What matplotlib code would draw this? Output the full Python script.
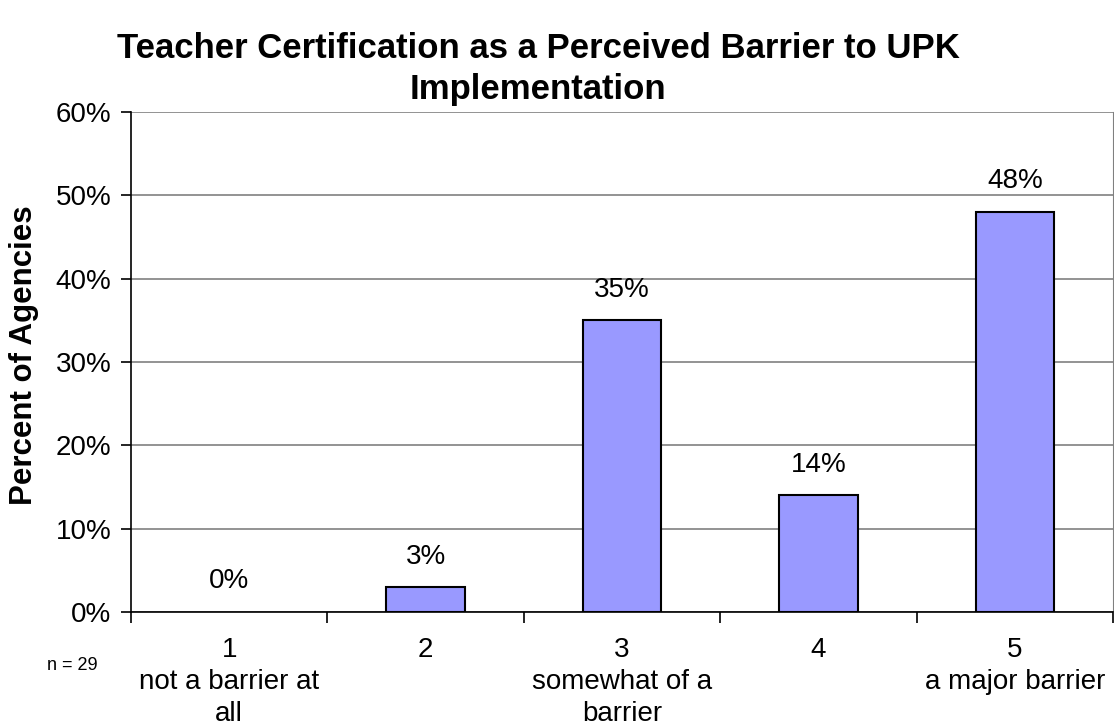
import matplotlib.pyplot as plt
import numpy as np

plt.rcParams['font.family'] = ['Liberation Sans', 'DejaVu Sans']

categories = ["1\nnot a barrier at\nall", "2", "3\nsomewhat of a\nbarrier", "4", "5\na major barrier"]
values = [0, 3, 35, 14, 48]
yticks = [0, 10, 20, 30, 40, 50, 60]

fig = plt.figure(figsize=(11.14, 7.27), dpi=100)
ax = fig.add_axes([131/1114, 1 - 612/727, (1113 - 131)/1114, 500/727])

x = np.arange(len(values))
edges = ["none" if v == 0 else "black" for v in values]
ax.bar(x, values, width=0.4, color="#9999FF", edgecolor=edges, linewidth=1.5, zorder=3)
for xi, v in zip(x, values):
    ax.text(xi, v + 2.1, "%d%%" % v, ha="center", va="bottom", fontsize=20)

ax.set_xlim(-0.5, 4.5)
ax.set_ylim(0, 60)
ax.set_yticks(yticks)
ax.set_yticklabels(["%d%%" % t for t in yticks], fontsize=20)
ax.yaxis.grid(True, color="#808080", linewidth=1.2, zorder=0)

ax.set_xticks(x)
ax.set_xticklabels(categories, fontsize=20, linespacing=1.3)
ax.set_xticks(np.arange(-0.5, 5, 1), minor=True)
ax.tick_params(axis="x", which="major", length=0, pad=18)
ax.tick_params(axis="x", which="minor", length=8, width=1.2, direction="out")
ax.tick_params(axis="y", length=7, width=1.2, direction="out", pad=7)

ax.spines["top"].set_visible(False)
ax.spines["right"].set_color("#808080")
ax.spines["left"].set_linewidth(1.2)
ax.spines["bottom"].set_linewidth(1.2)

ax.set_ylabel("Percent of Agencies", fontsize=22.5, fontweight="bold")
ax.yaxis.set_label_coords(-(131 - 39)/982, (612 - 355)/500)
fig.text(0.483, 1 - 69/727, "Teacher Certification as a Perceived Barrier to UPK\nImplementation",
         ha="center", va="center", fontsize=25, fontweight="bold", linespacing=1.3)
fig.text(72/1114, 1 - 665/727, "n = 29", ha="center", va="center", fontsize=13)

fig.savefig("out.png", dpi=100)
